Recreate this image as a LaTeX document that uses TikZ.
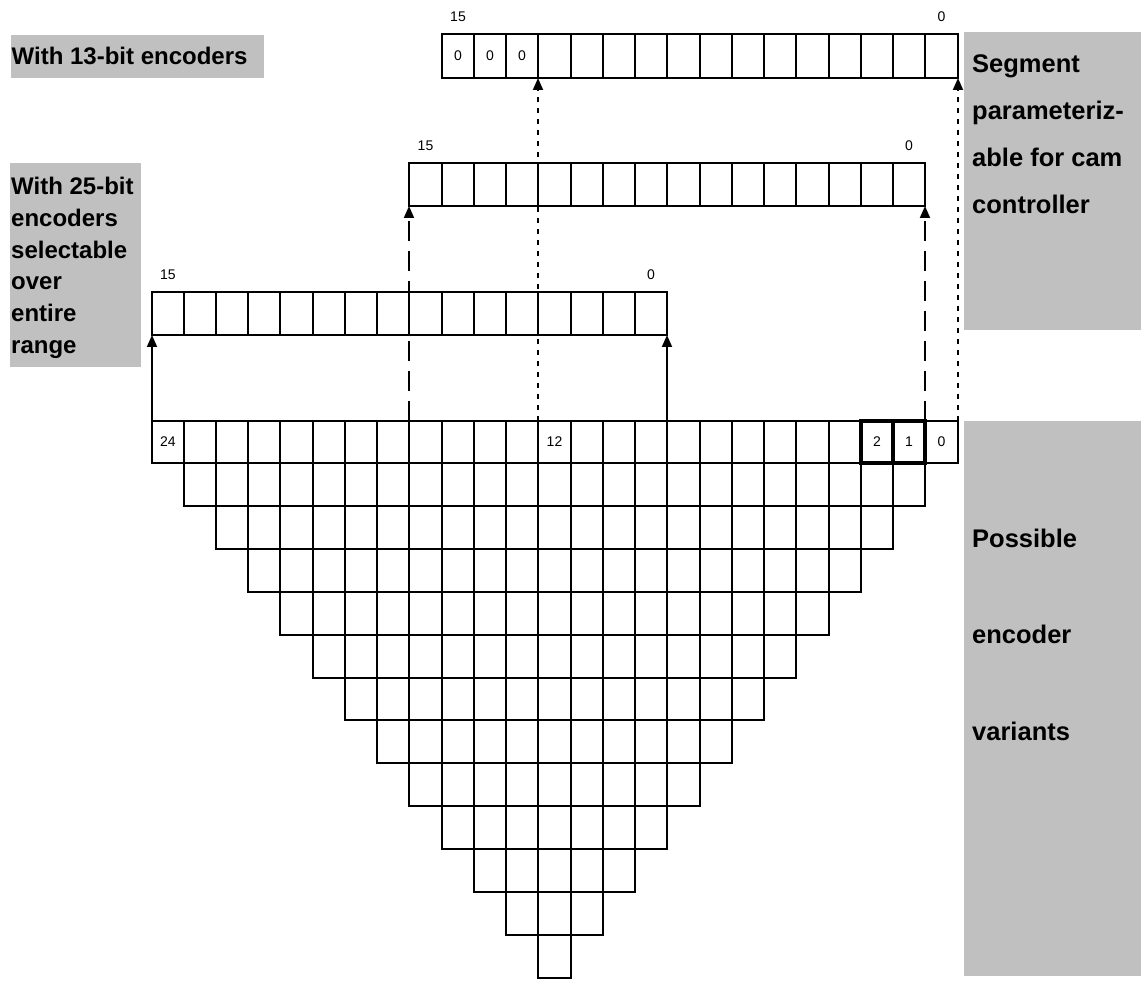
\documentclass[tikz,border=0pt]{standalone}
\usepackage{fontspec}
\setmainfont{Liberation Sans}
\usetikzlibrary{arrows.meta}
\definecolor{boxgray}{RGB}{192,192,192}
% column and row boundaries of the bit grid, kept on whole pixels
\pgfmathdeclarefunction{colx}{1}{\pgfmathparse{floor(152+#1*32.24+0.01)}}
\pgfmathdeclarefunction{rowy}{1}{\pgfmathparse{floor(421+#1*42.85+0.01)}}
\begin{document}
\begin{tikzpicture}[x=1pt,y=-1pt]
\tikzset{
  cell/.style={draw=none, inner sep=0pt, outer sep=0pt, anchor=north west,
    font=\fontsize{14}{14}\selectfont},
  grid/.style={line width=2pt, line cap=rect},
  reggrid/.style={line width=1.2pt},
  regframe/.style={line width=2pt, line cap=rect},
  boldcell/.style={line width=3.2pt},
  bitlabel/.style={inner sep=0pt, font=\fontsize{14}{14}\selectfont},
  panel/.style={fill=boxgray, draw=none, inner sep=0pt, outer sep=0pt, anchor=north west},
  lefttext/.style={anchor=base west, inner sep=0pt, font=\bfseries\fontsize{24}{24}\selectfont},
  righttext/.style={anchor=base west, inner sep=0pt, font=\bfseries\fontsize{25.5}{25.5}\selectfont},
  link/.style={line width=1.8pt, -{Triangle[length=12pt,width=10pt]}},
  solidlink/.style={link},
  dashlink/.style={link, dash pattern=on 20pt off 10pt},
  dotlink/.style={link, dash pattern=on 5pt off 6pt}
}
\useasboundingbox (0,0) rectangle (1144,984);

% grey caption panels
\node[panel, minimum width=253pt, minimum height=43pt]  (p13)  at (11,35)  {};
\node[panel, minimum width=131pt, minimum height=204pt] (p25)  at (10,163) {};
\node[panel, minimum width=177pt, minimum height=298pt] (pseg) at (964,32) {};
\node[panel, minimum width=177pt, minimum height=555pt] (pvar) at (964,421) {};

% caption texts
\node[lefttext] (c13) at (11.5,65) {With 13-bit encoders};
\foreach \t/\y [count=\i] in {With 25-bit/195, encoders/226.7, selectable/258.3,
    over/290, entire/321.7, range/353.3}
  \node[lefttext] (c25-\i) at (11,\y) {\t};
\foreach \t/\y [count=\i] in {Segment/73, parameteriz-/120, able for cam/167, controller/214}
  \node[righttext] (cseg-\i) at (972,\y) {\t};
\foreach \t/\y [count=\i] in {Possible/547, encoder/643.5, variants/740}
  \node[righttext] (cvar-\i) at (972,\y) {\t};

% encoder bit triangle: first row carries bits 24..0
\foreach \c in {0,...,24}{
  \pgfmathtruncatemacro{\b}{24-\c}
  \pgfmathsetmacro{\xa}{colx(\c)}
  \pgfmathsetmacro{\ww}{colx(\c+1)-\xa}
  \pgfmathsetmacro{\ya}{rowy(0)}
  \pgfmathsetmacro{\hh}{rowy(1)-\ya}
  \node[cell, minimum width=\ww pt, minimum height=\hh pt] (t\b) at (\xa,\ya)
    {\ifnum\b=24 24\fi\ifnum\b=12 12\fi\ifnum\b<3 \b\fi};
}
\foreach \k in {1,...,12}{
  \pgfmathtruncatemacro{\e}{24-\k}
  \foreach \c in {\k,...,\e}{
    \pgfmathsetmacro{\xa}{colx(\c)}
    \pgfmathsetmacro{\ww}{colx(\c+1)-\xa}
    \pgfmathsetmacro{\ya}{rowy(\k)}
    \pgfmathsetmacro{\hh}{rowy(\k+1)-\ya}
    \node[cell, minimum width=\ww pt, minimum height=\hh pt] (r\k-\c) at (\xa,\ya) {};
  }
}
% grid lines of the triangle, each drawn once
\draw[grid] ({colx(0)},{rowy(0)}) -- ({colx(25)},{rowy(0)});
\foreach \k in {1,...,13}
  \draw[grid] ({colx(\k-1)},{rowy(\k)}) -- ({colx(26-\k)},{rowy(\k)});
\foreach \j in {0,...,25}{
  \pgfmathtruncatemacro{\d}{min(\j,25-\j,12)+1}
  \draw[grid] ({colx(\j)},{rowy(0)}) -- ({colx(\j)},{rowy(\d)});
}
\draw[boldcell] (t2.north west) rectangle (t2.south east);
\draw[boldcell] (t1.north west) rectangle (t1.south east);

% 16-bit windows: a = 13-bit encoder, m and l = 25-bit encoder
\foreach \r/\off/\ytop/\ybot in {a/9/34/78, m/8/163/206, l/0/292/335}{
  \foreach \c in {0,...,15}{
    \pgfmathtruncatemacro{\b}{15-\c}
    \pgfmathsetmacro{\xa}{colx(\c+\off)}
    \pgfmathsetmacro{\ww}{colx(\c+\off+1)-\xa}
    \pgfmathsetmacro{\hh}{\ybot-\ytop}
    \node[cell, minimum width=\ww pt, minimum height=\hh pt] (\r\b) at (\xa,\ytop)
      {\ifnum\b>12 \if\r a0\fi\fi};
  }
  \foreach \b in {1,...,15}
    \draw[reggrid] (\r\b.south east) -- (\r\b.north east);
  \draw[regframe] (\r15.north west) rectangle (\r0.south east);
  \node[bitlabel] (\r15lab) at ([yshift=17pt]\r15.north) {15};
  \node[bitlabel] (\r0lab)  at ([yshift=17pt]\r0.north)  {0};
}

% mapping of the windows onto the encoder bits
\draw[solidlink] (t24.north west) -- (l15.south west);
\draw[solidlink] (t9.north east)  -- (l0.south east);
\draw[dashlink]  (t16.north west) -- (m15.south west);
\draw[dashlink]  (t1.north east)  -- (m0.south east);
\draw[dotlink]   (t12.north west) -- (a12.south west);
\draw[dotlink]   (t0.north east)  -- (a0.south east);
\end{tikzpicture}
\end{document}
